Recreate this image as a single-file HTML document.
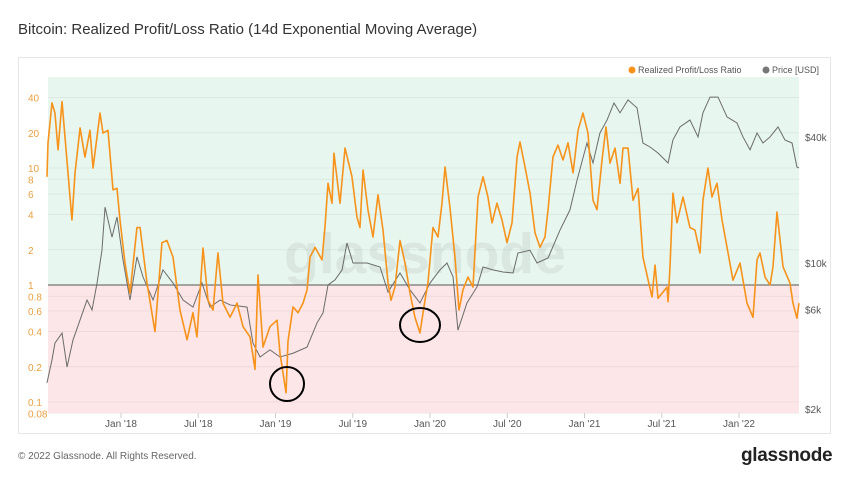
<!DOCTYPE html>
<html><head><meta charset="utf-8">
<style>
body{margin:0;width:850px;height:478px;background:#fff;font-family:"Liberation Sans",sans-serif;overflow:hidden;position:relative}
#title{position:absolute;left:18px;top:21px;font-size:15px;color:#333}
#card{position:absolute;left:18px;top:57px;width:813px;height:377px;border:1px solid #e6e6e6;box-sizing:border-box}
#foot{position:absolute;left:18px;top:451px;font-size:10px;color:#666}
#logo{position:absolute;left:741px;top:445px;font-size:19px;font-weight:bold;color:#222;letter-spacing:-0.3px}
svg{position:absolute;left:0;top:0}
</style></head><body>
<div id="title">Bitcoin: Realized Profit/Loss Ratio (14d Exponential Moving Average)</div>
<div id="card"></div>
<div id="foot">© 2022 Glassnode. All Rights Reserved.</div>
<div id="logo">glassnode</div>
<svg id="chart" width="850" height="478"></svg>
<script>
// months since Jan 2018
const ratioMonths=[-5.75,-5.67,-5.36,-5.13,-4.89,-4.58,-4.35,-3.81,-3.57,-3.18,-2.8,-2.41,-2.17,-1.63,-1.4,-1.01,-0.62,-0.31,-0.08,0.31,0.7,1.24,1.48,2.02,2.64,3.18,3.57,4.04,4.58,5.13,5.59,5.9,6.37,6.76,7.15,7.53,7.92,8.47,9.01,9.48,10.02,10.41,10.64,11.03,11.57,12.12,12.35,12.82,12.97,13.36,13.75,14.14,14.45,14.68,15.07,15.61,15.84,16.08,16.39,16.54,17.01,17.4,17.94,18.33,18.56,18.8,19.18,19.57,19.96,20.35,20.74,20.97,21.28,21.67,22.06,22.45,22.83,23.22,23.61,23.84,24.23,24.62,24.93,25.17,25.55,25.94,26.25,26.56,26.95,27.34,27.73,28.12,28.5,28.82,29.2,29.59,29.98,30.37,30.76,30.99,31.38,31.77,32.16,32.54,32.93,33.17,33.55,33.94,34.33,34.72,35.11,35.5,35.88,36.27,36.66,36.97,37.36,37.67,37.98,38.37,38.76,38.99,39.38,39.77,40.16,40.54,41.24,41.48,41.71,42.41,42.49,42.64,42.87,43.18,43.65,44.19,44.58,44.97,45.2,45.59,45.9,46.29,46.68,47.15,47.53,48.08,48.62,49.09,49.4,49.63,50.02,50.41,50.64,50.95,51.42,51.96,52.19,52.5,52.66];
const ratioValues=[8.4,16.4,36,29.5,14.3,37,18.4,3.6,9.1,22,12.4,21,10,29.5,19.9,21,6.5,6.7,3.6,1.54,0.85,3.1,3.1,1.04,0.4,2.3,2.4,1.73,0.61,0.34,0.58,0.36,2.07,0.74,0.61,1.88,0.7,0.53,0.7,0.44,0.36,0.19,1.22,0.295,0.44,0.5,0.26,0.12,0.33,0.65,0.58,0.7,0.91,1.73,2.1,1.64,3.1,7.4,5.0,13.4,5.0,14.8,8.4,3.8,3.1,9.6,4.4,2.57,5.9,2.95,1.04,0.74,0.96,2.4,1.54,0.85,0.53,0.39,0.74,1.04,3.1,2.57,5.0,10.2,4.6,1.73,0.61,0.91,1.17,0.96,5.65,8.4,5.65,3.4,5.0,3.6,2.3,3.4,12.4,16.7,10.2,6.1,2.78,2.1,2.57,4.4,12.4,15.7,11.7,16.4,9.1,21,29.5,19.9,5.3,4.4,11.7,22.4,11.0,14.8,7.4,14.8,14.8,5.3,6.7,1.73,0.79,1.48,0.77,0.96,0.72,1.43,6.1,3.4,5.65,3.1,2.95,1.88,5.3,10.0,5.65,7.4,3.6,1.88,1.1,1.54,0.7,0.53,1.64,1.88,1.17,1.0,1.43,4.2,1.43,1.04,0.7,0.52,0.7];
const priceMonths=[-5.75,-5.36,-5.13,-4.58,-4.19,-3.73,-3.18,-2.64,-2.25,-1.86,-1.48,-1.24,-0.7,-0.31,0.16,0.7,1.24,1.71,2.49,3.26,4.04,4.82,5.59,6.29,6.91,7.69,8.47,9.79,10.25,10.8,11.57,12.35,13.36,14.45,15.22,15.69,16.08,16.62,17.17,17.55,18.02,19.11,20.12,20.74,21.67,22.45,23.22,24.0,24.78,25.32,25.79,26.17,26.87,27.65,28.12,28.89,29.67,30.45,30.83,31.77,32.31,33.17,34.1,34.87,35.42,36.19,36.66,37.2,37.75,38.29,38.76,39.38,40.08,40.54,41.09,41.71,42.49,42.87,43.42,44.19,44.82,45.2,45.75,46.37,47.07,47.84,48.31,48.86,49.4,49.86,50.41,51.03,51.57,52.12,52.5,52.66];
const priceValues=[2670,3440,4140,4620,3180,4280,5340,6650,5960,8020,11500,18500,13300,16600,10300,6650,10700,8580,6650,9270,8020,6650,6150,8020,6150,6650,6300,6150,4140,3550,3840,3550,3700,3960,5160,5770,7850,8300,9270,12470,10000,10000,9570,7260,8960,7430,6440,8020,9270,10000,8580,4770,6440,7680,9570,9270,9060,8960,11160,11500,10000,10570,14380,17950,24900,37500,30100,41900,48300,58300,52300,60300,55200,37500,35900,33600,30100,38800,44800,48300,40100,52300,62200,62200,50000,46800,40100,34800,41900,37500,40100,44800,38800,37500,28800,28500];
const leftTicks=[40,20,10,8,6,4,2,1,0.8,0.6,0.4,0.2,0.1,0.08];
const leftTickLabels=["40","20","10","8","6","4","2","1","0.8","0.6","0.4","0.2","0.1","0.08"];
const rightTicks=[40000,10000,6000,2000];
const rightTickLabels=["$40k","$10k","$6k","$2k"];
const xTickMonths=[0,6,12,18,24,30,36,42,48];
const xTickLabels=["Jan '18","Jul '18","Jan '19","Jul '19","Jan '20","Jul '20","Jan '21","Jul '21","Jan '22"];

const X0=48,X1=799,Y0=77,Y1=413;
const xs=m=>121+m*12.875;
const yL=v=>285-Math.log10(v)*117;
const yR=p=>263-(Math.log10(p)-4)*209;
const svg=document.getElementById('chart');
const NS='http://www.w3.org/2000/svg';
function mk(t,a){const e=document.createElementNS(NS,t);for(const k in a)e.setAttribute(k,a[k]);svg.appendChild(e);return e;}

let e=mk('rect',{x:X0,y:Y0,width:X1-X0,height:yL(1)-Y0,fill:'#e7f6ef'});


e=mk('rect',{x:X0,y:yL(1),width:X1-X0,height:Y1-yL(1),fill:'#fce6e7'});


leftTicks.forEach((v,i)=>{
 const g=mk('line',{x1:X0,x2:X1,y1:yL(v),y2:yL(v),stroke:'#000','stroke-opacity':0.05});
 
 
 const t=mk('text',{x:28,y:yL(v)+4,'font-size':10,fill:'#e8a040'});
 t.textContent=leftTickLabels[i];
 
 
});
rightTicks.forEach((p,i)=>{
 const t=mk('text',{x:805,y:yR(p)+4,'font-size':10,fill:'#555'});
 t.textContent=rightTickLabels[i];
 
 
});
xTickMonths.forEach((m,i)=>{
 const l=mk('line',{x1:xs(m),x2:xs(m),y1:Y1,y2:Y1+5,stroke:'#ccc'});
 
 
 const t=mk('text',{x:xs(m),y:Y1+14,'font-size':10,fill:'#555','text-anchor':'middle'});
 t.textContent=xTickLabels[i];
 
 
});
e=mk('text',{x:425,y:273,'font-size':57,'font-weight':'bold',fill:'#000','fill-opacity':0.06,'text-anchor':'middle'});
e.textContent='glassnode';


e=mk('line',{x1:X0,x2:X1,y1:yL(1),y2:yL(1),stroke:'#555','stroke-width':1});


e=mk('polyline',{points:priceMonths.map((m,i)=>xs(m)+','+yR(priceValues[i])).join(' '),fill:'none',stroke:'#6b6b6b','stroke-width':1});


e=mk('polyline',{points:ratioMonths.map((m,i)=>xs(m)+','+yL(ratioValues[i])).join(' '),fill:'none',stroke:'#f7931a','stroke-width':1.6,'stroke-linejoin':'round'});


e=mk('ellipse',{cx:287,cy:384,rx:17,ry:17,fill:'none',stroke:'#000','stroke-width':2});


e=mk('ellipse',{cx:420,cy:325,rx:20,ry:17,fill:'none',stroke:'#000','stroke-width':2});


e=mk('circle',{cx:632,cy:70,r:3.5,fill:'#f7931a'});


e=mk('text',{x:638,y:73,'font-size':9,fill:'#555'});
e.textContent='Realized Profit/Loss Ratio';


e=mk('circle',{cx:766,cy:70,r:3.5,fill:'#777'});


e=mk('text',{x:772,y:73,'font-size':9,fill:'#555'});
e.textContent='Price [USD]';


</script>
</body></html>
